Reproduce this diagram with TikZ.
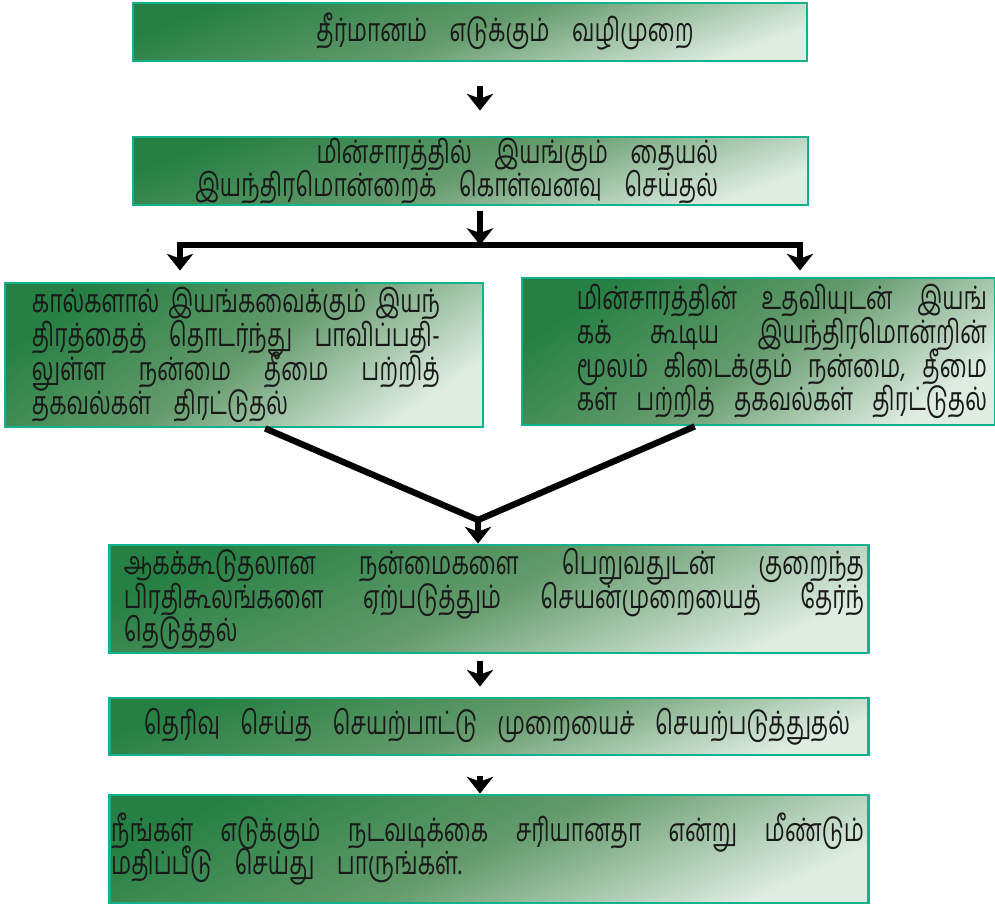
\documentclass[tikz,border=0pt]{standalone}
\usepackage{fontspec}
\newfontfamily\tamilfont[Script=Tamil, FakeStretch=0.7]{Hind Madurai}
\usetikzlibrary{arrows.meta,calc}
\definecolor{boxdark}{RGB}{38,128,68}
\definecolor{boxmid}{RGB}{100,155,108}
\definecolor{boxlight}{RGB}{222,236,226}
\definecolor{boxedge}{RGB}{20,178,140}
\tolerance=10000
\hbadness=10000
\vbadness=10000
\newcommand\boxpar{\spaceskip=16pt plus 40pt minus 13pt\parindent=0pt\lineskiplimit=-100pt\relax}

\tikzset{
  stepbox/.style={draw=boxedge, line width=2pt, top color=boxdark, bottom color=boxlight,
    middle color=boxmid, shading angle=20, inner sep=0pt, text=black!90,
    font=\tamilfont\fontsize{23}{24}\selectfont},
  flowarrow/.style={line width=4.5pt, -{Stealth[length=0.42cm, width=0.66cm, inset=0.12cm]}},
  flowline/.style={line width=4.5pt},
}

\begin{document}
\begin{tikzpicture}[x=0.025cm, y=-0.025cm]
\useasboundingbox (0,0) rectangle (995,903);

% boxes
\node[stepbox, minimum width=16.85cm, minimum height=1.45cm] (method) at (470,32)
  {\vbox to 1.45cm{\hsize=16.85cm\boxpar\leftskip=1.75cm plus 1fil\rightskip=0pt plus 1fil\parfillskip=0pt
   \vss தீர்மானம் எடுக்கும் வழிமுறை\par\vss}};
\node[stepbox, minimum width=16.875cm, minimum height=1.7cm] (buy) at (470.5,171)
  {\vbox to 1.7cm{\hsize=16.875cm\boxpar\leftskip=0pt plus 1fil\rightskip=2.25cm\parfillskip=0pt
   \vss மின்சாரத்தில் இயங்கும் தையல்\par
   இயந்திரமொன்றைக் கொள்வனவு செய்தல்\par\vss}};
\node[stepbox, shading angle=35, minimum width=11.95cm, minimum height=3.6cm] (manual) at (244,355)
  {\vbox to 3.6cm{\hsize=11.95cm\boxpar\leftskip=0.675cm\rightskip=1.075cm
   \vss கால்களால் இயங்கவைக்கும் இயந்\linebreak
   திரத்தைத் தொடர்ந்து பாவிப்பதி-\linebreak
   லுள்ள நன்மை தீமை பற்றித்\linebreak
   தகவல்கள் திரட்டுதல்\par\vss}};
\node[stepbox, shading angle=35, minimum width=11.825cm, minimum height=3.675cm] (electric) at (758.5,351.5)
  {\vbox to 3.675cm{\hsize=11.825cm\boxpar\leftskip=1.375cm\rightskip=0.2cm\parfillskip=0pt
   \vss மின்சாரத்தின் உதவியுடன் இயங்\linebreak
   கக் கூடிய இயந்திரமொன்றின்\linebreak
   மூலம் கிடைக்கும் நன்மை, தீமை\linebreak
   கள் பற்றித் தகவல்கள் திரட்டுதல்\par\vss}};
\node[stepbox, shading angle=25, minimum width=18.95cm, minimum height=2.7cm] (result) at (489,599)
  {\vbox to 2.7cm{\hsize=18.95cm\boxpar\leftskip=0.35cm\rightskip=0.1cm
   \vss ஆகக்கூடுதலான நன்மைகளை பெறுவதுடன் குறைந்த\linebreak
   பிரதிகூலங்களை ஏற்படுத்தும் செயன்முறையைத் தேர்ந்\linebreak
   தெடுத்தல்\par\vss}};
\node[stepbox, minimum width=18.95cm, minimum height=1.425cm] (apply) at (489,726.5)
  {\vbox to 1.425cm{\hsize=18.95cm\boxpar\leftskip=0.85cm\rightskip=0.45cm\parfillskip=0pt
   \vss தெரிவு செய்த செயற்பாட்டு முறையைச் செயற்படுத்துதல்\par\vss}};
\node[stepbox, shading angle=25, minimum width=18.95cm, minimum height=2.7cm] (review) at (489,849)
  {\vbox to 2.7cm{\hsize=18.95cm\boxpar\leftskip=0.03cm\rightskip=0.1cm
   \vss நீங்கள் எடுக்கும் நடவடிக்கை சரியானதா என்று மீண்டும்\linebreak
   மதிப்பீடு செய்து பாருங்கள்.\par\vss}};

% connectors
\coordinate (spine) at (480,0);
\coordinate (fork) at (480,245);
\coordinate (forkL) at (180,245);
\coordinate (forkR) at (800,245);
\coordinate (merge) at (478,520);
\draw[flowarrow, shorten <=0.6cm, shorten >=0.625cm] (method.south -| spine) -- (buy.north -| spine);
\draw[flowarrow, shorten <=0.125cm] (buy.south -| fork) -- (fork);
\draw[flowarrow, shorten >=0.275cm] (fork) -- (forkL) -- (manual.north -| forkL);
\draw[flowarrow, shorten >=0.15cm] (fork) -- (forkR) -- (electric.north -| forkR);
\draw[flowline] ($(manual.south west)!0.544!(manual.south east)$) -- (merge)
  -- ($(electric.south west)!0.366!(electric.south east)$);
\draw[flowarrow] (merge) -- (result.north -| merge);
\draw[flowarrow, shorten <=0.175cm, shorten >=0.25cm] (result.south -| spine) -- (apply.north -| spine);
\draw[flowarrow, shorten <=0.5cm] (apply.south -| spine) -- (review.north -| spine);
\end{tikzpicture}
\end{document}
